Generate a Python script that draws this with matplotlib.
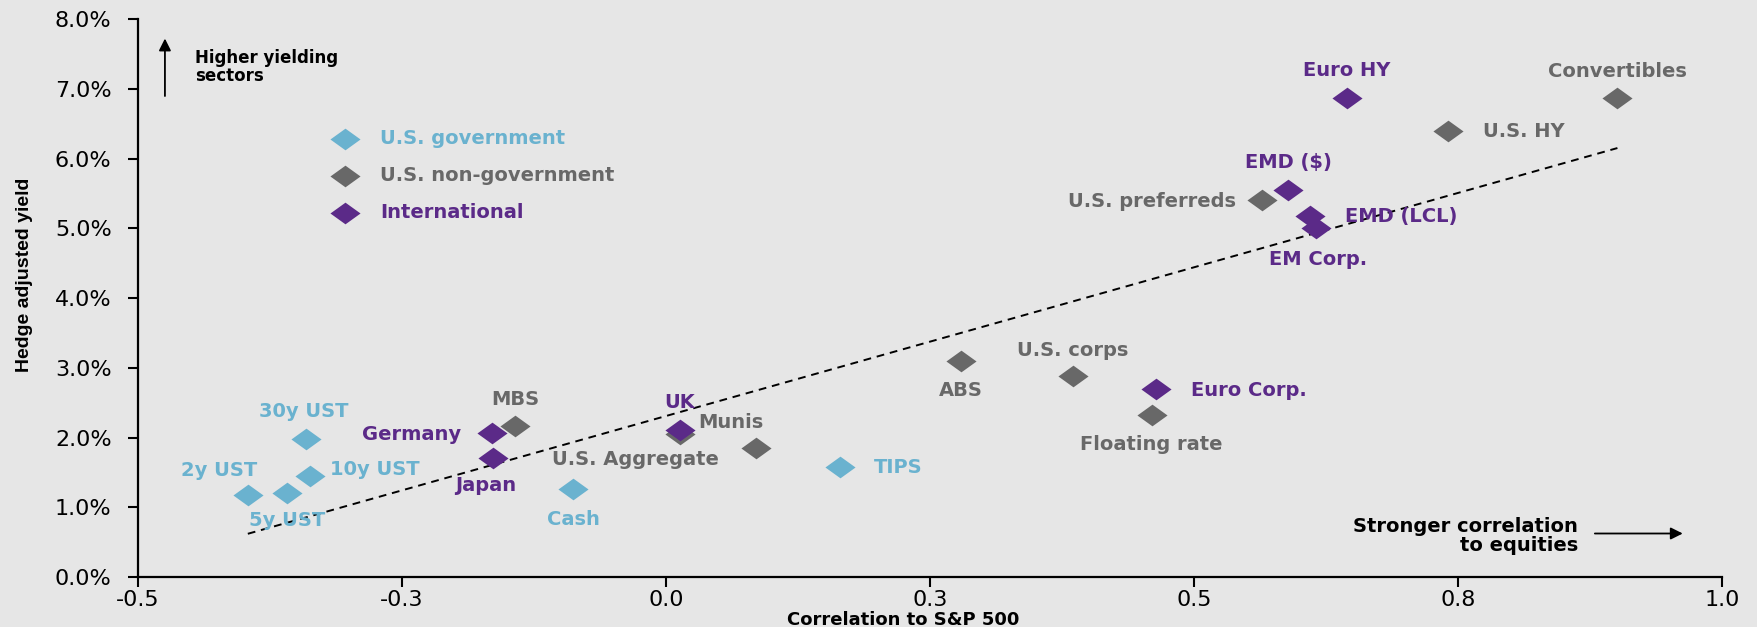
import numpy as np
import matplotlib
matplotlib.use('Agg')
import matplotlib.pyplot as plt
from matplotlib.path import Path

plt.rcParams['font.family'] = ['DejaVu Sans']

# data
gov_names = ['2y UST', '5y UST', '10y UST', '30y UST', 'Cash', 'TIPS']
gov_corr = [-0.396, -0.359, -0.337, -0.341, -0.088, 0.165]
gov_yield = [1.18, 1.21, 1.45, 1.98, 1.26, 1.58]

nongov_names = ['MBS', 'U.S. Aggregate', 'Munis', 'ABS', 'U.S. corps',
                'Floating rate', 'U.S. preferreds', 'U.S. HY', 'Convertibles']
nongov_corr = [-0.143, 0.013, 0.085, 0.279, 0.385, 0.460, 0.564, 0.741, 0.901]
nongov_yield = [2.16, 2.05, 1.85, 3.09, 2.88, 2.32, 5.40, 6.40, 6.87]

intl_names = ['Germany', 'Japan', 'UK', 'Euro Corp.', 'Euro HY',
              'EMD ($)', 'EMD (LCL)', 'EM Corp.']
intl_corr = [-0.165, -0.164, 0.013, 0.464, 0.645, 0.589, 0.610, 0.616]
intl_yield = [2.06, 1.71, 2.11, 2.69, 6.87, 5.55, 5.18, 5.00]

trend_x = [-0.396, 0.901]
trend_y = [0.62, 6.15]

x_ticks = [-0.5, -0.25, 0.0, 0.25, 0.5, 0.75, 1.0]
x_ticklabels = ['-0.5', '-0.3', '0.0', '0.3', '0.5', '0.8', '1.0']
y_ticks = [0, 1, 2, 3, 4, 5, 6, 7, 8]

groups = [
    ('U.S. government', gov_names, gov_corr, gov_yield, '#6AB2CF'),
    ('U.S. non-government', nongov_names, nongov_corr, nongov_yield, '#686868'),
    ('International', intl_names, intl_corr, intl_yield, '#5B2A88'),
]

# label placement: (dx, dy) in pixels, horizontal alignment
label_pos = {
    '2y UST': (-29, 24, 'center'), '5y UST': (0, -28, 'center'),
    '10y UST': (20, 6, 'left'), '30y UST': (-2, 27, 'center'),
    'Cash': (0, -30, 'center'), 'TIPS': (34, -1, 'left'),
    'MBS': (0, 27, 'center'), 'U.S. Aggregate': (-44, -25, 'center'),
    'Munis': (-25, 25, 'center'), 'ABS': (0, -29, 'center'),
    'U.S. corps': (0, 26, 'center'), 'Floating rate': (0, -29, 'center'),
    'U.S. preferreds': (-26, -1, 'right'), 'U.S. HY': (35, -1, 'left'),
    'Convertibles': (0, 26, 'center'), 'Germany': (-31, -1, 'right'),
    'Japan': (-7, -28, 'center'), 'UK': (0, 27, 'center'),
    'Euro Corp.': (35, -1, 'left'), 'Euro HY': (0, 27, 'center'),
    'EMD ($)': (0, 27, 'center'), 'EMD (LCL)': (35, -1, 'left'),
    'EM Corp.': (2, -31, 'center'),
}

bg = '#E6E6E6'
diamond = Path([(-1, 0), (0, 0.72), (1, 0), (0, -0.72), (-1, 0)],
               [Path.MOVETO, Path.LINETO, Path.LINETO, Path.LINETO, Path.CLOSEPOLY])

fig = plt.figure(figsize=(17.58, 6.27), dpi=100, facecolor=bg)
ax = fig.add_axes([0.0785, 0.0797, 0.901, 0.890])
ax.set_facecolor(bg)

ax.plot(trend_x, trend_y, ls=(0, (4, 3)), color='black', lw=1.4, zorder=1)

for name, labels, xs, ys, col in groups:
    ax.scatter(xs, ys, marker=diamond, s=470, color=col, lw=0, zorder=3)
    for lab, x, y in zip(labels, xs, ys):
        dx, dy, ha = label_pos[lab]
        ax.annotate(lab, (x, y), xytext=(dx, dy), textcoords='offset pixels',
                    ha=ha, va='center', color=col, fontsize=14, fontweight='bold',
                    zorder=4)

# legend drawn by hand
for i, (name, _, _, _, col) in enumerate(groups):
    yy = 0.785 - i * 0.066
    ax.scatter([0.1305], [yy], marker=diamond, s=470, color=col, lw=0,
               transform=ax.transAxes, clip_on=False)
    ax.text(0.153, yy, name, transform=ax.transAxes, ha='left', va='center',
            color=col, fontsize=14, fontweight='bold')

ax.set_xlim(-0.5, 1.0)
ax.set_ylim(0, 8)
ax.set_xticks(x_ticks)
ax.set_xticklabels(x_ticklabels)
ax.set_yticks(y_ticks)
ax.set_yticklabels([f'{v:.1f}%' for v in y_ticks])
ax.tick_params(direction='out', length=7, width=1.5, labelsize=16, colors='black')
ax.tick_params(axis='x', pad=2)
ax.tick_params(axis='y', pad=12)
for s in ['top', 'right']:
    ax.spines[s].set_visible(False)
for s in ['left', 'bottom']:
    ax.spines[s].set_linewidth(1.6)
    ax.spines[s].set_color('black')

# annotation arrows
ax.annotate('', xy=(0.017, 0.970), xytext=(0.017, 0.857), xycoords='axes fraction',
            arrowprops=dict(arrowstyle='-|>', color='black', lw=1.3, mutation_scale=18))
ax.text(0.036, 0.914, 'Higher yielding\nsectors', transform=ax.transAxes,
        ha='left', va='center', fontsize=12, fontweight='bold', linespacing=1.0)
ax.annotate('', xy=(0.977, 0.078), xytext=(0.918, 0.078), xycoords='axes fraction',
            arrowprops=dict(arrowstyle='-|>', color='black', lw=1.3, mutation_scale=18))
ax.text(0.909, 0.074, 'Stronger correlation\nto equities', transform=ax.transAxes,
        ha='right', va='center', fontsize=14, fontweight='bold', linespacing=1.0,
        multialignment='right')

fig.text(0.014, 0.561, 'Hedge adjusted yield', rotation=90, ha='center', va='center',
         fontsize=14, fontweight='bold', family=['Liberation Sans Narrow', 'Liberation Sans'])
fig.text(0.514, 0.011, 'Correlation to S&P 500', ha='center', va='center',
         fontsize=13, fontweight='bold')

fig.savefig('out.png', dpi=100, facecolor=bg)
